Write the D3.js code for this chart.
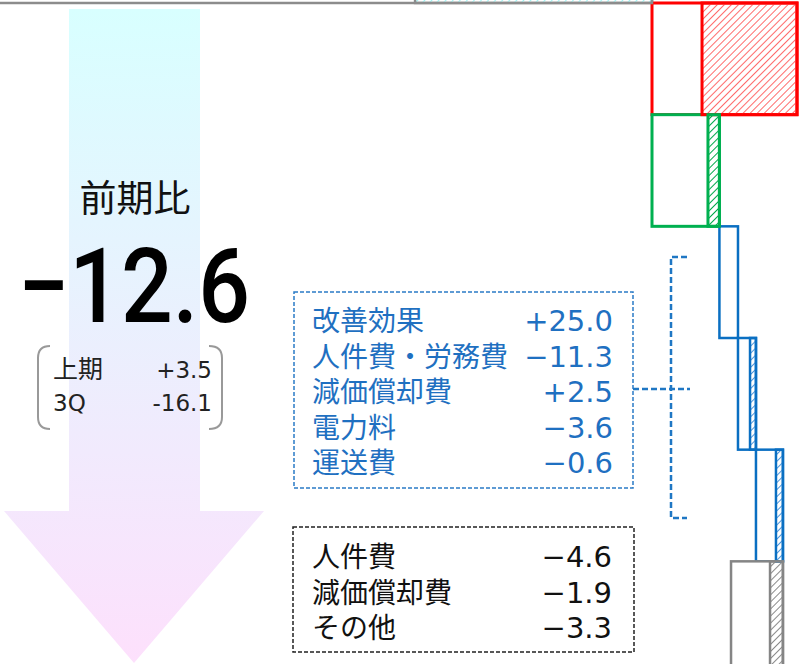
<!DOCTYPE html>
<html>
<head>
<meta charset="utf-8">
<script src="https://cdn.jsdelivr.net/npm/d3@7"></script>
<style>
  body { margin: 0; background: #fff; }
  svg { display: block; }
</style>
</head>
<body>
<div id="chart"></div>
<script>
// values
var totalLabel = "前期比";
var totalValue = -12.6;

var halfLabels = ["上期", "3Q"];
var halfValues = [3.5, -16.1];

var driverLabels = ["改善効果", "人件費・労務費", "減価償却費", "電力料", "運送費"];
var driverValues = [25.0, -11.3, 2.5, -3.6, -0.6];

var otherLabels = ["人件費", "減価償却費", "その他"];
var otherValues = [-4.6, -1.9, -3.3];

// waterfall rows (only the right part is visible), arbitrary units
var rowIds    = ["prev", "r0", "r1", "r2", "r3", "r4", "r5"];
var rowStart  = [-460, 0, 0, 46.5, 59.3, 71.7, 54.5];
var rowEnd    = [0, 100, 46.5, 59.3, 71.7, 90.3, 90.3];
var rowHatch  = [-163.4, 34.5, 38.6, null, 67.6, 85.5, 81.4];
var rowKind   = ["prevRow", "red", "green", "blue", "blue", "blue", "gray"];

var width = 801, height = 664;

var styles = {
  prevRow: {stroke: "#8c8c8c", hatch: "#9ff3f3", sw: 2.5},
  red:     {stroke: "#ff0000", hatch: "#ff6b6b", sw: 3},
  green:   {stroke: "#00b050", hatch: "#00a84a", sw: 3},
  blue:    {stroke: "#0a6fc2", hatch: "#4d96dc", sw: 2.5},
  gray:    {stroke: "#858585", hatch: "#8a8a8a", sw: 2.5}
};

var blue = "#1f70c1";
var numFont = "'DejaVu Sans', 'Noto Sans CJK JP', sans-serif";
var jpFont = "'Noto Sans CJK JP', sans-serif";
var fmt = d3.format("+.1f");

var svg = d3.select("#chart")
  .append("svg")
    .attr("width", width)
    .attr("height", height);

var defs = svg.append("defs");

var grad = defs.append("linearGradient")
    .attr("id", "arrowGrad")
    .attr("x1", 0).attr("y1", 0).attr("x2", 0).attr("y2", 1);
grad.append("stop").attr("offset", "0%").attr("stop-color", "#d8ffff");
grad.append("stop").attr("offset", "100%").attr("stop-color", "#fde0fc");

Object.keys(styles).forEach(function(k) {
  var p = defs.append("pattern")
      .attr("id", "hatch-" + k)
      .attr("patternUnits", "userSpaceOnUse")
      .attr("width", 5)
      .attr("height", 5)
      .attr("patternTransform", "rotate(45)");
  p.append("line")
      .attr("x1", 0).attr("y1", 0).attr("x2", 0).attr("y2", 5)
      .attr("stroke", styles[k].hatch)
      .attr("stroke-width", 2);
});

// ---- big arrow on the left
var arrow = {shaftL: 69, shaftR: 200, top: 9, headY: 511, headL: 4, headR: 264, tipY: 663};
svg.append("path")
    .attr("d", "M" + arrow.shaftL + "," + arrow.top +
               "H" + arrow.shaftR + "V" + arrow.headY +
               "H" + arrow.headR +
               "L" + ((arrow.headL + arrow.headR) / 2) + "," + arrow.tipY +
               "L" + arrow.headL + "," + arrow.headY +
               "H" + arrow.shaftL + "Z")
    .attr("fill", "url(#arrowGrad)");

svg.append("text")
    .attr("x", 135)
    .attr("y", 212)
    .attr("text-anchor", "middle")
    .style("font-family", jpFont)
    .style("font-size", "37px")
    .attr("fill", "#111")
    .text(totalLabel);

svg.append("text")
    .attr("x", 18)
    .attr("y", 322)
    .attr("textLength", 232)
    .attr("lengthAdjust", "spacingAndGlyphs")
    .style("font-family", "Roboto, 'Liberation Sans', sans-serif")
    .style("font-weight", 500)
    .style("font-size", "104px")
    .attr("fill", "#000")
    .text(d3.format(".1f")(totalValue));

// small bracket with half-year split
var half = svg.append("g");
half.selectAll("text.hl")
  .data(halfLabels)
  .enter()
  .append("text")
    .attr("class", "hl")
    .attr("x", 53)
    .attr("y", function(d, i) { return 378 + i * 33; })
    .style("font-family", function(d, i) { return i == 0 ? jpFont : numFont; })
    .style("font-size", function(d, i) { return i == 0 ? "25px" : "23px"; })
    .attr("fill", "#222")
    .text(function(d) { return d; });
half.selectAll("text.hv")
  .data(halfValues)
  .enter()
  .append("text")
    .attr("class", "hv")
    .attr("x", 212)
    .attr("y", function(d, i) { return 378 + i * 33; })
    .attr("text-anchor", "end")
    .style("font-family", numFont)
    .style("font-size", "23px")
    .attr("fill", "#222")
    .text(function(d) { return d > 0 ? "+" + d.toFixed(1) : "-" + Math.abs(d).toFixed(1); });
half.append("path")
    .attr("d", "M50,346 Q38,346 38,358 V417 Q38,429 50,429")
    .attr("fill", "none").attr("stroke", "#999").attr("stroke-width", 2);
half.append("path")
    .attr("d", "M209,346 Q222,346 222,358 V417 Q222,429 209,429")
    .attr("fill", "none").attr("stroke", "#999").attr("stroke-width", 2);

// ---- waterfall bars
var x = d3.scaleLinear()
    .domain([0, 100])
    .range([652, 797]);

var y = d3.scaleBand()
    .domain(rowIds)
    .range([3 - 111.67, 673])
    .padding(0);

var rows = rowIds.map(function(id, i) {
  return {id: id, start: rowStart[i], end: rowEnd[i], hatch: rowHatch[i], kind: rowKind[i]};
});

var bars = svg.append("g");
bars.selectAll("rect.main")
  .data(rows)
  .enter()
  .append("rect")
    .attr("class", "main")
    .attr("x", function(d) { return x(d.start); })
    .attr("y", function(d) { return y(d.id); })
    .attr("width", function(d) { return x(d.end) - x(d.start); })
    .attr("height", y.bandwidth())
    .attr("fill", "#fff")
    .attr("stroke", function(d) { return styles[d.kind].stroke; })
    .attr("stroke-width", function(d) { return styles[d.kind].sw; });

bars.selectAll("rect.hatch")
  .data(rows.filter(function(d) { return d.hatch != null; }))
  .enter()
  .append("rect")
    .attr("class", "hatch")
    .attr("x", function(d) { return x(d.hatch); })
    .attr("y", function(d) { return y(d.id); })
    .attr("width", function(d) { return x(d.end) - x(d.hatch); })
    .attr("height", y.bandwidth())
    .attr("fill", function(d) { return "url(#hatch-" + d.kind + ")"; })
    .attr("stroke", function(d) { return styles[d.kind].stroke; })
    .attr("stroke-width", function(d) { return styles[d.kind].sw; });

// ---- blue dashed box with drivers
var lineStep = 35.5;
svg.append("rect")
    .attr("x", 294).attr("y", 292)
    .attr("width", 339).attr("height", 196)
    .attr("fill", "none")
    .attr("stroke", "#2a7bc6")
    .attr("stroke-width", 1.5)
    .attr("stroke-dasharray", "4,2");

var drv = svg.append("g").attr("fill", blue);
drv.selectAll("text.lab")
  .data(driverLabels)
  .enter()
  .append("text")
    .attr("class", "lab")
    .attr("x", 312)
    .attr("y", function(d, i) { return 331 + i * lineStep; })
    .style("font-family", jpFont)
    .style("font-size", "28px")
    .text(function(d) { return d; });
drv.selectAll("text.val")
  .data(driverValues)
  .enter()
  .append("text")
    .attr("class", "val")
    .attr("x", 613)
    .attr("y", function(d, i) { return 331 + i * lineStep; })
    .attr("text-anchor", "end")
    .style("font-family", numFont)
    .style("font-size", "29px")
    .text(function(d) { return fmt(d); });

// bracket connecting box to the blue bars
var br = svg.append("g")
    .attr("fill", "none")
    .attr("stroke", "#1f77c4")
    .attr("stroke-width", 2.5)
    .attr("stroke-dasharray", "6,3");
br.append("path").attr("d", "M687,257 H671 V518 H687");
br.append("path").attr("d", "M633,389 H690");

// ---- black dashed box
svg.append("rect")
    .attr("x", 293).attr("y", 527)
    .attr("width", 341).attr("height", 125)
    .attr("fill", "none")
    .attr("stroke", "#222")
    .attr("stroke-width", 1.5)
    .attr("stroke-dasharray", "4,2");

var oth = svg.append("g").attr("fill", "#111");
oth.selectAll("text.lab")
  .data(otherLabels)
  .enter()
  .append("text")
    .attr("class", "lab")
    .attr("x", 312)
    .attr("y", function(d, i) { return 567 + i * lineStep; })
    .style("font-family", jpFont)
    .style("font-size", "28px")
    .text(function(d) { return d; });
oth.selectAll("text.val")
  .data(otherValues)
  .enter()
  .append("text")
    .attr("class", "val")
    .attr("x", 612)
    .attr("y", function(d, i) { return 567 + i * lineStep; })
    .attr("text-anchor", "end")
    .style("font-family", numFont)
    .style("font-size", "29px")
    .text(function(d) { return fmt(d); });
</script>
</body>
</html>
